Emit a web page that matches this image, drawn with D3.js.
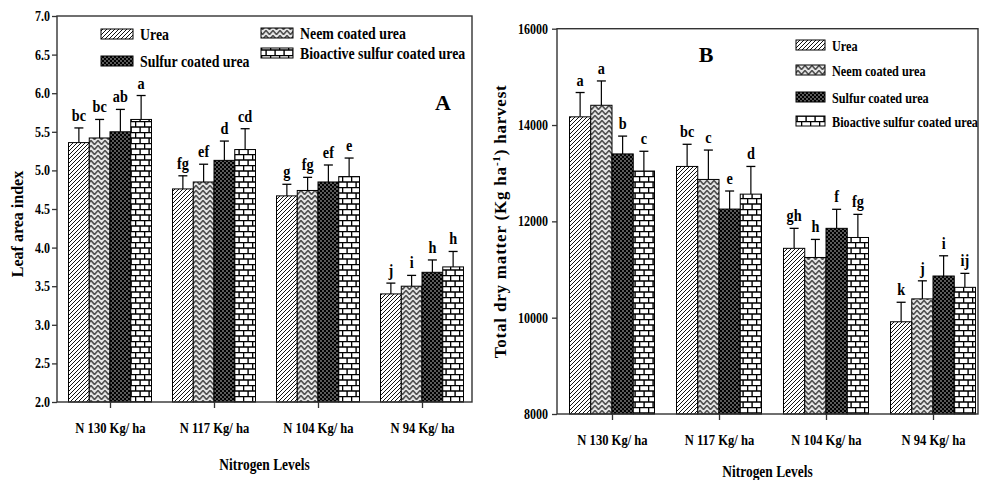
<!DOCTYPE html>
<html><head><meta charset="utf-8">
<script src="https://cdn.jsdelivr.net/npm/d3@7"></script>
<style>
body{margin:0;background:#fff;}
svg{display:block;}
text{font-family:"Liberation Serif","Times New Roman",serif;font-weight:bold;fill:#000;}
</style></head><body>
<svg id="chart" width="981" height="480"></svg>
<script>
// ---- data ----
const nitrogenLevels = ["N 130 Kg/ ha", "N 117 Kg/ ha", "N 104 Kg/ ha", "N 94 Kg/ ha"];
const treatments = ["Urea", "Neem coated urea", "Sulfur coated urea", "Bioactive sulfur coated urea"];

// Leaf area index: mean and error per nitrogen level (rows), treatments in order (columns)
const laiMean = [[5.36, 5.42, 5.50, 5.66], [4.76, 4.85, 5.13, 5.27], [4.67, 4.74, 4.85, 4.92], [3.40, 3.50, 3.68, 3.75]];
const laiErr = [[0.19, 0.24, 0.29, 0.31], [0.17, 0.23, 0.25, 0.27], [0.15, 0.17, 0.22, 0.24], [0.14, 0.14, 0.16, 0.20]];
const laiLetters = [["bc", "bc", "ab", "a"], ["fg", "ef", "d", "cd"], ["g", "fg", "ef", "e"], ["j", "i", "h", "h"]];
const laiTicks = [2.0, 2.5, 3.0, 3.5, 4.0, 4.5, 5.0, 5.5, 6.0, 6.5, 7.0];

// Total dry matter at harvest (Kg/ha)
const tdmMean = [[14170, 14410, 13400, 13045], [13140, 12870, 12255, 12565], [11440, 11250, 11855, 11665], [9915, 10390, 10865, 10630]];
const tdmErr = [[505, 505, 370, 410], [460, 610, 375, 575], [415, 375, 395, 480], [405, 375, 420, 290]];
const tdmLetters = [["a", "a", "b", "c"], ["bc", "c", "e", "d"], ["gh", "h", "f", "fg"], ["k", "j", "i", "ij"]];
const tdmTicks = [8000, 10000, 12000, 14000, 16000];

// ---- drawing ----
const svg = d3.select("#chart");
const defs = svg.append("defs");
const SQ = 0.84; // horizontal squeeze of the condensed serif lettering

// fill patterns, one per treatment
const pHatch = defs.append("pattern").attr("id", "p0").attr("patternUnits", "userSpaceOnUse")
  .attr("width", 4).attr("height", 4);
pHatch.append("rect").attr("width", 4).attr("height", 4).attr("fill", "#fff");
pHatch.append("path").attr("d", "M-1,1 l2,-2 M0,4 l4,-4 M3,5 l2,-2")
  .attr("stroke", "#111").attr("stroke-width", 1);

const pZig = defs.append("pattern").attr("id", "p1").attr("patternUnits", "userSpaceOnUse")
  .attr("width", 7).attr("height", 5);
pZig.append("rect").attr("width", 7).attr("height", 5).attr("fill", "#e6e6e6");
pZig.append("path").attr("d", "M-1.75,2.5 L0,0.5 L3.5,4.5 L7,0.5 L8.75,2.5")
  .attr("fill", "none").attr("stroke", "#505050").attr("stroke-width", 1.6);

const pDot = defs.append("pattern").attr("id", "p2").attr("patternUnits", "userSpaceOnUse")
  .attr("width", 4).attr("height", 4);
pDot.append("rect").attr("width", 4).attr("height", 4).attr("fill", "#000");
pDot.append("circle").attr("cx", 1).attr("cy", 1).attr("r", 0.65).attr("fill", "#fff");
pDot.append("circle").attr("cx", 3).attr("cy", 3).attr("r", 0.65).attr("fill", "#fff");

const pBrick = defs.append("pattern").attr("id", "p3").attr("patternUnits", "userSpaceOnUse")
  .attr("width", 9).attr("height", 11);
pBrick.append("rect").attr("width", 9).attr("height", 11).attr("fill", "#fff");
pBrick.append("path").attr("d", "M0,0.5 H9 M0,6 H9 M0.6,0 V6 M5.1,6 V11")
  .attr("stroke", "#000").attr("stroke-width", 1.4).attr("fill", "none");

const fills = treatments.map((t, i) => `url(#p${i})`);

// squeezed text helper
function sqText(g, x, y, str, size, anchor, squeeze) {
  return g.append("text")
    .attr("transform", `translate(${x},${y}) scale(${squeeze || SQ},1)`)
    .attr("text-anchor", anchor || "middle")
    .style("font-size", size + "px")
    .text(str);
}

function drawPanel(cfg) {
  const g = svg.append("g");
  const { left, right, top, bottom } = cfg.frame;

  const y = d3.scaleLinear().domain(cfg.yDomain).range([bottom, top]);
  const x = d3.scalePoint().domain(nitrogenLevels).range(cfg.centers);
  const inner = d3.scaleBand().domain(d3.range(treatments.length))
    .range([-cfg.groupWidth / 2, cfg.groupWidth / 2]).padding(0);

  // bars, error bars and letters
  nitrogenLevels.forEach((lvl, li) => {
    treatments.forEach((t, ti) => {
      const v = cfg.mean[li][ti], e = cfg.err[li][ti];
      const bx = x(lvl) + inner(ti), bw = inner.bandwidth();
      const cx = bx + bw / 2;
      g.append("line").attr("x1", cx).attr("x2", cx).attr("y1", y(v)).attr("y2", y(v + e))
        .attr("stroke", "#000").attr("stroke-width", 1.2);
      g.append("line").attr("x1", cx - 4.5).attr("x2", cx + 4.5).attr("y1", y(v + e)).attr("y2", y(v + e))
        .attr("stroke", "#000").attr("stroke-width", 1.3);
      g.append("rect").attr("x", bx).attr("y", y(v)).attr("width", bw).attr("height", bottom - y(v))
        .attr("fill", fills[ti]).attr("stroke", "#000").attr("stroke-width", 1);
      sqText(g, cx, y(v + e) - 7, cfg.letters[li][ti], 17);
    });
  });

  // frame
  g.append("rect").attr("x", left).attr("y", top).attr("width", right - left).attr("height", bottom - top)
    .attr("fill", "none").attr("stroke", "#333").attr("stroke-width", 1.4);

  // y axis
  const ya = g.append("g").attr("transform", `translate(${left},0)`)
    .call(d3.axisLeft(y).tickValues(cfg.yTicks).tickFormat(cfg.yFormat).tickSize(5).tickSizeOuter(0));
  ya.select(".domain").remove();
  ya.selectAll(".tick line").attr("stroke", "#333").attr("stroke-width", 1.3);
  ya.selectAll(".tick text").attr("x", null).attr("dy", null)
    .attr("transform", `translate(${-cfg.yLabelGap},4.5) scale(0.86,1)`)
    .style("font-size", "14px").style("font-family", null);

  // x axis
  const xa = g.append("g").attr("transform", `translate(0,${bottom})`)
    .call(d3.axisBottom(x).tickSize(6).tickSizeOuter(0));
  xa.select(".domain").remove();
  xa.selectAll(".tick line").attr("stroke", "#333").attr("stroke-width", 1.3);
  xa.selectAll(".tick text").attr("y", null).attr("dy", null)
    .attr("transform", `translate(0,31) scale(${SQ},1)`)
    .style("font-size", "15px").style("font-family", null);

  // axis titles
  sqText(g, (left + right) / 2, cfg.xTitleY, "Nitrogen Levels", 16);
  const yt = g.append("text")
    .attr("transform", `translate(${cfg.yTitleX},${(top + bottom) / 2 + cfg.yTitleShift}) rotate(-90)`)
    .attr("text-anchor", "middle").style("font-size", cfg.yTitleSize + "px")
    .style("letter-spacing", cfg.yTitleSpacing + "px");
  cfg.yTitle(yt);

  // panel tag
  g.append("text").attr("x", cfg.tag[1]).attr("y", cfg.tag[2]).attr("text-anchor", "middle")
    .style("font-size", "22px").text(cfg.tag[0]);

  // legend
  treatments.forEach((t, ti) => {
    const [lx, ly] = cfg.legendPos[ti];
    g.append("rect").attr("x", lx).attr("y", ly).attr("width", cfg.swatch[0]).attr("height", cfg.swatch[1])
      .attr("fill", fills[ti]).attr("stroke", "#000").attr("stroke-width", 1);
    sqText(g, lx + cfg.swatch[0] + 7, ly + 10.5, t, cfg.legendSize, "start", cfg.legendSqueeze);
  });
}

drawPanel({
  frame: { left: 57, right: 472, top: 16, bottom: 402 },
  yDomain: [2, 7], yTicks: laiTicks, yFormat: d3.format(".1f"), yLabelGap: 7,
  centers: [110, 422], groupWidth: 83,
  mean: laiMean, err: laiErr, letters: laiLetters,
  xTitleY: 470,
  yTitleX: 23, yTitleShift: 15, yTitleSize: 16, yTitleSpacing: 0,
  yTitle: t => t.text("Leaf area index"),
  tag: ["A", 443, 110],
  legendPos: [[101, 29], [261, 28], [101, 56], [261, 48]], swatch: [32, 10], legendSize: 16.5, legendSqueeze: SQ
});

drawPanel({
  frame: { left: 557, right: 978, top: 28.7, bottom: 414 },
  yDomain: [8000, 16000], yTicks: tdmTicks, yFormat: d3.format("d"), yLabelGap: 9,
  centers: [612, 933], groupWidth: 85,
  mean: tdmMean, err: tdmErr, letters: tdmLetters,
  xTitleY: 477,
  yTitleX: 506, yTitleShift: 0, yTitleSize: 17, yTitleSpacing: 0.8,
  yTitle: t => {
    t.append("tspan").text("Total dry matter (Kg ha");
    t.append("tspan").attr("baseline-shift", "super").style("font-size", "11px").text("-1");
    t.append("tspan").text(") harvest");
  },
  tag: ["B", 706, 62],
  legendPos: [[796, 40], [796, 65], [796, 92], [796, 116]], swatch: [29, 10], legendSize: 15.5, legendSqueeze: 0.79
});
</script>
</body></html>
